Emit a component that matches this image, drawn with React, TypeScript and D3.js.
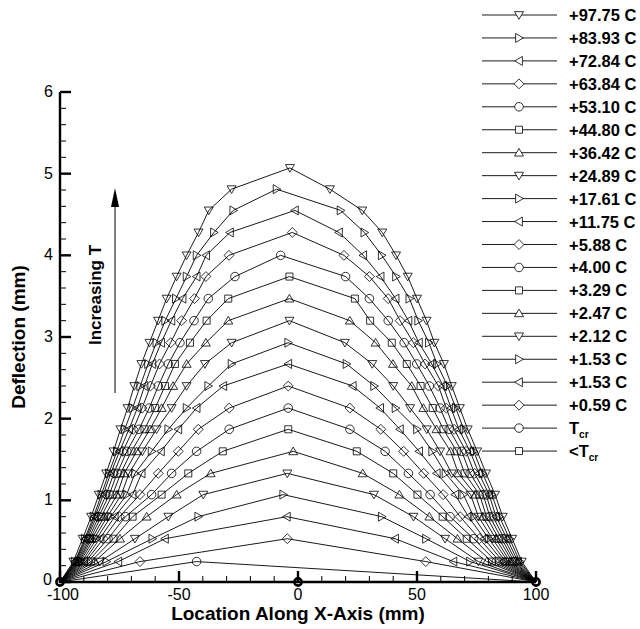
import React from "react";
import * as d3 from "d3";

// Deflection levels (mm) shared by the measurement rows
const levels = [0.25, 0.53, 0.8, 1.07, 1.33, 1.6, 1.87, 2.13, 2.4, 2.67, 2.93, 3.2, 3.47, 3.74, 4.0, 4.28, 4.55, 4.81, 5.07];

// Legend order (top to bottom)
const seriesLabels = [
  "+97.75 C", "+83.93 C", "+72.84 C", "+63.84 C", "+53.10 C", "+44.80 C", "+36.42 C",
  "+24.89 C", "+17.61 C", "+11.75 C", "+5.88 C", "+4.00 C", "+3.29 C", "+2.47 C",
  "+2.12 C", "+1.53 C", "+1.53 C", "+0.59 C", "Tcr", "<Tcr",
];
const markerCycle = ["down", "right", "left", "diamond", "circle", "square", "up"];

// Left-side x (mm) at levels[0..n-1], same order as legend (without <Tcr)
const leftX = [
  [-94.4, -90.5, -86.9, -83.7, -80.6, -77.5, -74.6, -71.6, -68.8, -65.8, -62.4, -58.8, -55.2, -51, -46.8, -41.8, -37.5, -27.9],
  [-93.8, -89.6, -85.9, -82.6, -79.5, -76.1, -72.8, -69.5, -66.3, -63, -59.5, -55.8, -51.3, -46.8, -42.6, -35.3, -27.2],
  [-93.5, -89.2, -85.3, -81.8, -78.7, -75, -71, -67.5, -64.5, -61.2, -57.5, -53.2, -48.5, -42.6, -38.6, -28.6],
  [-93.2, -88.7, -84.6, -80.6, -77.4, -73.6, -69.2, -65.5, -62, -58.2, -53.5, -48.9, -43.5, -38.7, -29],
  [-92.8, -88, -83.7, -79.3, -76, -71.9, -66.8, -62.5, -58.7, -54.5, -49.6, -43.7, -37.7, -26.5],
  [-92.4, -87.3, -82.7, -77.9, -74.5, -70, -64.5, -60, -55.9, -51.7, -45.4, -38.4, -29.3],
  [-92, -86.6, -81.4, -76, -73, -67.8, -62.2, -57.3, -52.5, -46.8, -38.7, -29.3],
  [-91.5, -85.7, -80.1, -74.2, -71, -65.4, -59.4, -53.1, -46.8, -39.1, -27.9],
  [-90.8, -84.6, -78.7, -72, -68.5, -61.5, -54.5, -46.8, -37.7, -27.9],
  [-90, -83.3, -77, -69.5, -65.7, -57.6, -50.3, -42.6, -31.4],
  [-89.2, -81.8, -75, -66.4, -58.7, -50.3, -41.9, -28.9],
  [-88.2, -79.8, -72.5, -61.5, -53.1, -42.6, -28.9],
  [-87, -77.5, -69.5, -57.3, -46.1, -31.6],
  [-85.5, -74.8, -63.6, -51, -36.7],
  [-83.2, -68.5, -54.5, -39.8],
  [-80.5, -61.2, -41.9],
  [-75.5, -55.9],
  [-66.4],
  [],
];

// Peak x (mm) at the top level of each curve
const peakX = [-3.4, -9, -1.3, -2.4, -7.3, -3.6, -3.6, -3.6, -4.1, -4.1, -4.1, -4.1, -4.1, -2, -4.5, -6.2, -4.7, -4.5, -42.6];

// Right-side x (mm) at levels[0..n-1]
const rightX = [
  [94, 90, 86, 82.8, 79, 75.3, 71.3, 68, 64.6, 61.3, 57.3, 54, 50, 46.1, 41.2, 35.4, 27, 13.4],
  [93.2, 88.9, 84.6, 81.5, 77.5, 73.8, 69.6, 66.3, 62.8, 58.4, 55, 50.5, 46.8, 41.2, 35.2, 27.9, 17.9],
  [92.4, 87.8, 83.2, 80.3, 76, 72.3, 67.6, 64.3, 61, 56.2, 50.8, 46.4, 41, 34.7, 27.4, 17.2],
  [91.6, 86.7, 81.9, 79, 74.2, 70.6, 65.6, 62.3, 59, 53.4, 48.5, 42.9, 37.9, 30, 19.3],
  [90.8, 85.6, 80.6, 77.8, 72.3, 68.8, 63.5, 59.7, 55.2, 49.9, 44.6, 37.9, 30, 20],
  [90, 84.4, 79.2, 76.3, 70, 66.7, 61.1, 56.6, 51.5, 45.7, 39.4, 30.3, 23.9],
  [89.1, 83.1, 77.6, 74.5, 67.4, 64.1, 58.2, 52.7, 47.8, 39.9, 32.6, 21.8],
  [88.2, 81.7, 75.8, 72.5, 64.6, 59.7, 54.1, 47.1, 40, 31.2, 19.7],
  [87.2, 80.1, 73.8, 69.5, 62, 56.4, 50, 41, 32, 20.4],
  [86.1, 78.3, 71.6, 66, 58.3, 50.9, 42.8, 34.5, 23],
  [84.8, 76.2, 68.1, 61, 52.8, 44.4, 34.8, 21.8],
  [83.3, 73.8, 63.9, 55.5, 46.4, 36.6, 21.8],
  [81.5, 70.9, 60.8, 50.2, 40, 24.7],
  [79.3, 67, 55.2, 42.6, 27.2],
  [75.8, 61.8, 48.5, 31.9],
  [72.3, 53.8, 35.2],
  [65.3, 40.8],
  [53.7],
  [],
];

// Below-critical case: flat at zero
const flatX = [-100, 0, 100];
const flatY = [0, 0, 0];

const xTicks = [-100, -50, 0, 50, 100];
const yTicks = [0, 1, 2, 3, 4, 5, 6];

const W = 640;
const H = 629;
const FONT = "'Liberation Sans', Arial, Helvetica, sans-serif";

function markerPath(type: string, s: number): string {
  const h = s / 2;
  switch (type) {
    case "down":
      return `M${-h},${-h * 0.75}L${h},${-h * 0.75}L0,${h * 0.95}Z`;
    case "up":
      return `M${-h},${h * 0.75}L${h},${h * 0.75}L0,${-h * 0.95}Z`;
    case "right":
      return `M${-h * 0.75},${-h}L${-h * 0.75},${h}L${h * 0.95},0Z`;
    case "left":
      return `M${h * 0.75},${-h}L${h * 0.75},${h}L${-h * 0.95},0Z`;
    case "diamond":
      return `M0,${-h * 1.1}L${h * 1.1},0L0,${h * 1.1}L${-h * 1.1},0Z`;
    case "square":
      return `M${-h * 0.78},${-h * 0.78}H${h * 0.78}V${h * 0.78}H${-h * 0.78}Z`;
    default: {
      const r = h * 0.95;
      return `M${r},0A${r},${r} 0 1,1 ${-r},0A${r},${r} 0 1,1 ${r},0Z`;
    }
  }
}

export default function App() {
  const x = d3.scaleLinear().domain([-100, 100]).range([60, 536]);
  const y = d3.scaleLinear().domain([0, 6]).range([582, 92]);
  const line = d3
    .line<[number, number]>()
    .x((d) => x(d[0]))
    .y((d) => y(d[1]));

  const series = leftX.map((lx, si) => {
    const n = lx.length;
    const pts: [number, number][] = [];
    lx.forEach((v, k) => pts.push([v, levels[k]]));
    pts.push([peakX[si], levels[n]]);
    const rx = rightX[si];
    for (let k = rx.length - 1; k >= 0; k--) pts.push([rx[k], levels[k]]);
    return { pts, marker: markerCycle[si % 7] };
  });

  const xMinor = d3.range(-100, 101, 10).filter((v) => v % 50 !== 0);
  const yMinor = d3.range(0, 6.0001, 0.2).filter((v) => Math.abs(v - Math.round(v)) > 0.01);

  const legendTop = 15;
  const legendStep = 22.95;

  return (
    <svg
      width={W}
      height={H}
      style={{ position: "absolute", left: 0, top: 0, background: "#fff" }}
      fontFamily={FONT}
    >
      <rect x={0} y={0} width={W} height={H} fill="#fff" />
      {/* series lines */}
      {series.map((s, i) => (
        <path
          key={"l" + i}
          d={line([[-100, 0], ...s.pts, [100, 0]]) || ""}
          fill="none"
          stroke="#000"
          strokeWidth={0.9}
        />
      ))}
      {/* markers */}
      {series.map((s, i) =>
        s.pts.map((p, j) => (
          <path
            key={"m" + i + "-" + j}
            d={markerPath(s.marker, 9)}
            transform={`translate(${x(p[0])},${y(p[1])})`}
            fill="none"
            stroke="#000"
            strokeWidth={0.8}
          />
        ))
      )}
      {/* flat series */}
      <path
        d={line(flatX.map((v, i) => [v, flatY[i]] as [number, number])) || ""}
        fill="none"
        stroke="#000"
        strokeWidth={1}
      />
      {/* axes */}
      <line x1={60} x2={60} y1={y(6)} y2={y(0) + 1} stroke="#000" strokeWidth={2.4} />
      <line x1={59} x2={x(100)} y1={y(0)} y2={y(0)} stroke="#000" strokeWidth={2.4} />
      {yTicks.map((t) => (
        <g key={"yt" + t}>
          <line x1={60} x2={71} y1={y(t)} y2={y(t)} stroke="#000" strokeWidth={2.4} />
          <text x={t === 0 ? 52 : 53} y={y(t) + (t === 0 ? 3 : 5)} fontSize={16} textAnchor="end">
            {t}
          </text>
        </g>
      ))}
      {yMinor.map((t, i) => (
        <line key={"ym" + i} x1={60} x2={66} y1={y(t)} y2={y(t)} stroke="#000" strokeWidth={1} />
      ))}
      {xTicks.map((t) => (
        <g key={"xt" + t}>
          <line x1={x(t)} x2={x(t)} y1={y(0)} y2={y(0) - 11} stroke="#000" strokeWidth={2.4} />
          <text x={x(t) + (t === -100 ? 3 : 0)} y={y(0) + 18} fontSize={16} textAnchor="middle">
            {t}
          </text>
        </g>
      ))}
      {xMinor.map((t, i) => (
        <line key={"xm" + i} x1={x(t)} x2={x(t)} y1={y(0)} y2={y(0) - 6} stroke="#000" strokeWidth={1} />
      ))}
      {/* flat markers */}
      {flatX.map((v, i) => (
        <circle key={"fc" + i} cx={x(v)} cy={y(flatY[i])} r={3.6} fill="none" stroke="#000" strokeWidth={2.6} />
      ))}
      {/* titles */}
      <text x={298} y={620} fontSize={19} fontWeight="bold" textAnchor="middle">
        Location Along X-Axis (mm)
      </text>
      <text
        transform={`translate(25,${y(3)}) rotate(-90)`}
        fontSize={19}
        fontWeight="bold"
        textAnchor="middle"
      >
        Deflection (mm)
      </text>
      {/* annotation */}
      <text transform="translate(101,295) rotate(-90)" fontSize={17} fontWeight="bold" textAnchor="middle">
        Increasing T
      </text>
      <line x1={115} x2={115} y1={393} y2={200} stroke="#000" strokeWidth={1} />
      <path d="M115,188L119,207L111,207Z" fill="#000" />
      {/* legend */}
      {seriesLabels.map((lab, j) => {
        const ly = legendTop + j * legendStep;
        const mk = markerCycle[j % 7];
        return (
          <g key={"lg" + j}>
            <line x1={482} x2={557} y1={ly} y2={ly} stroke="#000" strokeWidth={0.9} />
            <path d={markerPath(mk, 9)} transform={`translate(519,${ly})`} fill="#fff" stroke="#000" strokeWidth={0.8} />
            {lab === "Tcr" ? (
              <text x={569} y={ly + 6} fontSize={16.5} fontWeight="bold">
                T<tspan dy={4} fontSize={10}>cr</tspan>
              </text>
            ) : lab === "<Tcr" ? (
              <text x={569} y={ly + 6} fontSize={16.5} fontWeight="bold">
                {"<T"}<tspan dy={4} fontSize={10}>cr</tspan>
              </text>
            ) : (
              <text x={569} y={ly + 6} fontSize={16.5} fontWeight="bold">
                {lab}
              </text>
            )}
          </g>
        );
      })}
    </svg>
  );
}
